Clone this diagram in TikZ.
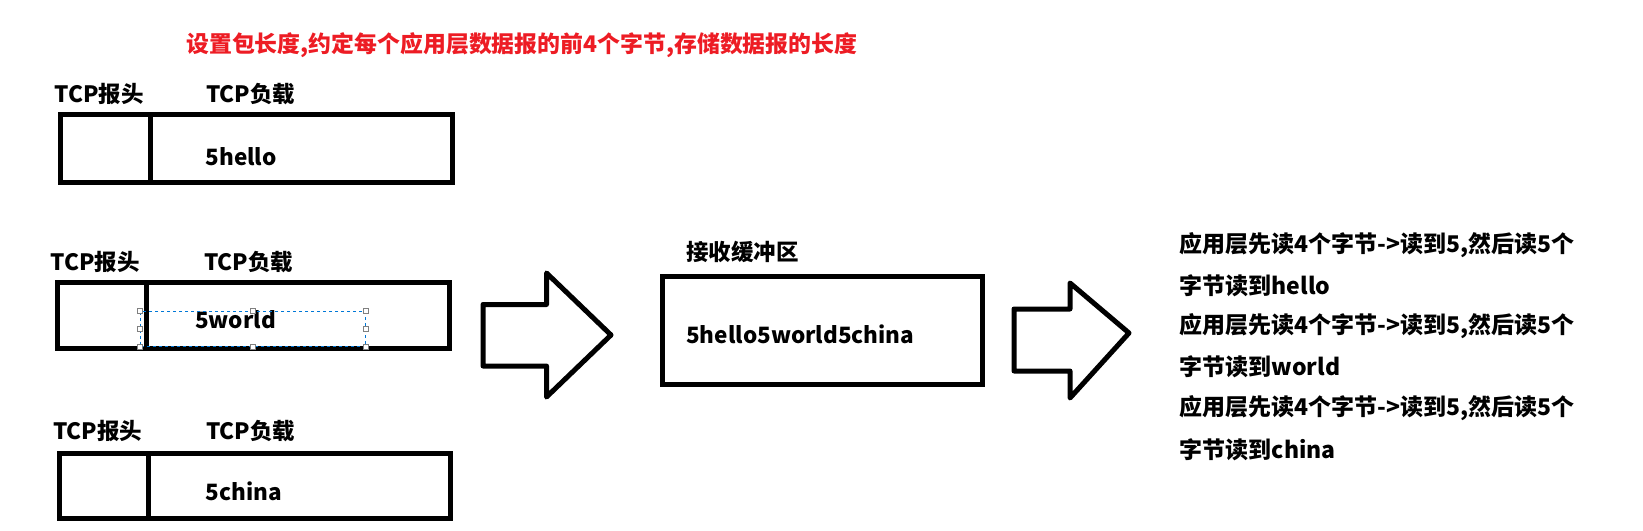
\documentclass[tikz,border=0pt]{standalone}
\usepackage{fontspec}
\setmainfont{Noto Sans CJK SC}
\definecolor{redtxt}{RGB}{237,28,36}
\definecolor{selblue}{RGB}{0,120,215}
\begin{document}
\begin{tikzpicture}[x=1pt,y=-1pt,
  pkt/.style={draw,line width=5pt,inner sep=0pt},
  lbl/.style={anchor=west,inner sep=0pt,font=\fontsize{22.5}{22.5}\selectfont\bfseries},
  rtxt/.style={anchor=west,inner sep=0pt,font=\fontsize{23}{23}\selectfont\bfseries},
  bigarrow/.style={draw,line width=5pt,line join=round},
  handle/.style={draw=gray,fill=white,line width=0.8pt,minimum size=5pt,inner sep=0pt}]
\useasboundingbox (0,0) rectangle (1643,530);
% title
\node[anchor=west,inner sep=0pt,text=redtxt,font=\fontsize{22.9}{22.9}\selectfont\bfseries] (title) at (186,45) {设置包长度,约定每个应用层数据报的前4个字节,存储数据报的长度};
% packet 1
\node[pkt,minimum width=392pt,minimum height=68pt] (p1) at (256,148.8) {};
\coordinate (d1t) at (150,115) ; \coordinate (d1b) at (150,182.8);
\draw[line width=5pt] (d1t) -- (d1b);
\node[lbl] (h1) at (54.5,94.3) {TCP报头};
\node[lbl] (l1) at (206,94.3) {TCP负载};
\node[lbl] (t1) at (205.4,157) {5hello};
% packet 2
\node[pkt,minimum width=392pt,minimum height=66pt] (p2) at (253,315.9) {};
\coordinate (d2t) at (146.7,282.9); \coordinate (d2b) at (146.7,348.9);
\draw[line width=5pt] (d2t) -- (d2b);
\node[lbl] (h2) at (50.3,262) {TCP报头};
\node[lbl] (l2) at (204,262) {TCP负载};
\node[lbl] (t2) at (194.9,319.6) {5world};
\node[draw=selblue,dashed,line width=0.8pt,minimum width=225pt,minimum height=35.6pt,inner sep=0pt] (sel) at (253,329) {};
\foreach \a in {north west,north,north east,east,south east,south,south west,west}
  \node[handle] at (sel.\a) {};
% packet 3
\node[pkt,minimum width=391pt,minimum height=65pt] (p3) at (254.6,486.2) {};
\coordinate (d3t) at (148.8,453.7); \coordinate (d3b) at (148.8,518.7);
\draw[line width=5pt] (d3t) -- (d3b);
\node[lbl] (h3) at (53,430.6) {TCP报头};
\node[lbl] (l3) at (206,430.6) {TCP负载};
\node[lbl] (t3) at (205.4,491.4) {5china};
% arrow 1
\draw[bigarrow] (483,304.5) -- (546.5,304.5) -- (546.5,273) -- (611,335) -- (546.5,397) -- (546.5,366) -- (483,366) -- cycle;
% buffer
\node[pkt,minimum width=320pt,minimum height=108pt] (buf) at (822.5,330) {};
\node[lbl] (bufl) at (686,251.5) {接收缓冲区};
\node[lbl] (buft) at (686,334) {5hello5world5china};
% arrow 2
\draw[bigarrow] (1014,309) -- (1070,309) -- (1070,283) -- (1129,333) -- (1070,398) -- (1070,371) -- (1014,371) -- cycle;
% right text
\node[rtxt] (r1) at (1179.5,245) {应用层先读4个字节->读到5,然后读5个};
\node[rtxt] (r2) at (1179.5,285.5) {字节读到hello};
\node[rtxt] (r3) at (1179.5,326.5) {应用层先读4个字节->读到5,然后读5个};
\node[rtxt] (r4) at (1179.5,367) {字节读到world};
\node[rtxt] (r5) at (1179.5,408.6) {应用层先读4个字节->读到5,然后读5个};
\node[rtxt] (r6) at (1179.5,449.5) {字节读到china};
\end{tikzpicture}
\end{document}
